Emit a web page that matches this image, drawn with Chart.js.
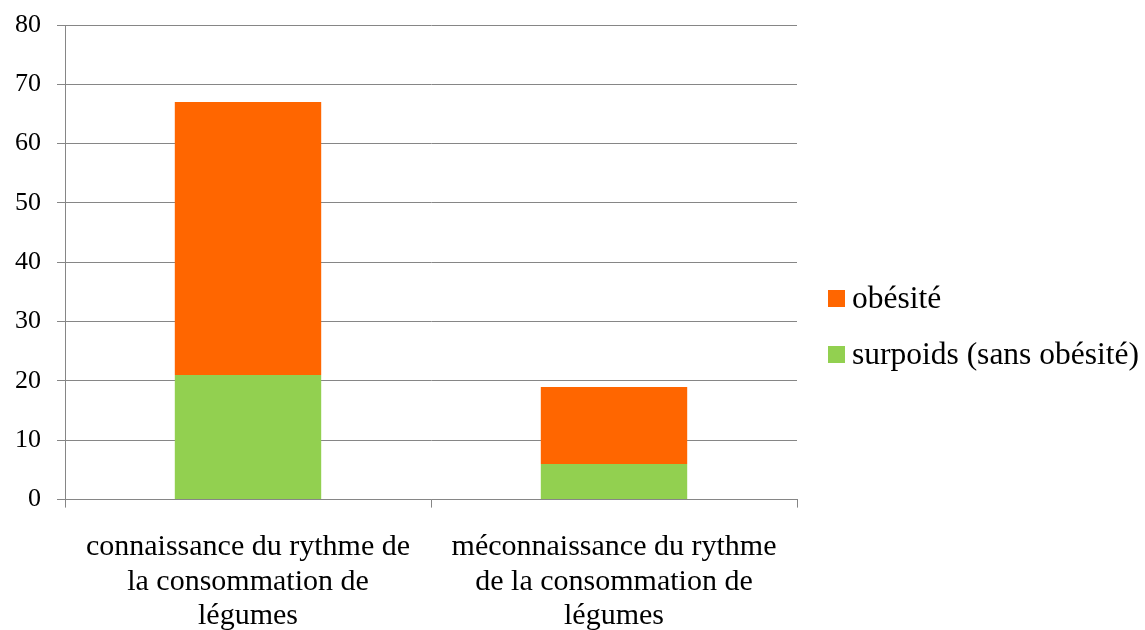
<!DOCTYPE html>
<html>
<head>
<meta charset="utf-8">
<script src="https://cdn.jsdelivr.net/npm/chart.js@4"></script>
<style>
  html, body { margin: 0; padding: 0; background: #fff; }
  #wrap { width: 1145px; height: 630px; position: relative; }
  #legend { position: absolute; left: 828px; top: 270px; font-family: "Liberation Serif", serif; font-size: 31.5px; color: #000; }
  .item { display: flex; align-items: center; height: 56px; white-space: nowrap; }
  .box { width: 17px; height: 17px; margin-right: 7px; flex: none; }
</style>
</head>
<body>
<div id="wrap">
  <canvas id="chart" width="1145" height="630"></canvas>
  <div id="legend"></div>
</div>
<script>
// data
const categories = [
  ["connaissance du rythme de", "la consommation de", "légumes"],
  ["méconnaissance du rythme", "de la consommation de", "légumes"]
];
const surpoids = [21, 6];
const obesite = [46, 13];
const yTicks = [0, 10, 20, 30, 40, 50, 60, 70, 80];

Chart.defaults.font.family = "Times New Roman";
const serif = "Liberation Serif";

const chart = new Chart(document.getElementById("chart"), {
  type: "bar",
  data: {
    labels: categories,
    datasets: [
      { label: "surpoids (sans obésité)", data: surpoids, backgroundColor: "#92D050" },
      { label: "obésité", data: obesite, backgroundColor: "#FF6600" }
    ]
  },
  options: {
    responsive: false,
    animation: false,
    layout: { padding: { top: 0, left: -1, right: 348, bottom: -26 } },
    datasets: { bar: { barPercentage: 0.4, categoryPercentage: 1 } },
    plugins: {
      tooltip: { enabled: false },
      legend: { display: false }
    },
    scales: {
      x: {
        stacked: true,
        border: { color: "#868686", width: 1 },
        grid: { offset: true, drawOnChartArea: false, drawTicks: true, tickLength: 8, color: "#868686" },
        ticks: {
          color: "#000",
          maxRotation: 0,
          autoSkip: false,
          padding: 22,
          font: { family: serif, size: 30, lineHeight: 1.16 }
        }
      },
      y: {
        stacked: true,
        min: 0,
        max: 80,
        afterBuildTicks: (axis) => { axis.ticks = yTicks.map(v => ({ value: v })); },
        afterFit: (axis) => { axis.paddingTop = 25; },
        border: { color: "#868686", width: 1 },
        grid: { color: "#868686", tickLength: 8 },
        ticks: {
          color: "#000",
          padding: 16,
          font: { family: serif, size: 26 }
        }
      }
    }
  }
});

// legend (top item = top of stack)
const legend = document.getElementById("legend");
chart.data.datasets.slice().reverse().forEach(ds => {
  const row = document.createElement("div");
  row.className = "item";
  row.innerHTML = `<span class="box" style="background:${ds.backgroundColor}"></span><span>${ds.label}</span>`;
  legend.appendChild(row);
});
</script>
</body>
</html>
